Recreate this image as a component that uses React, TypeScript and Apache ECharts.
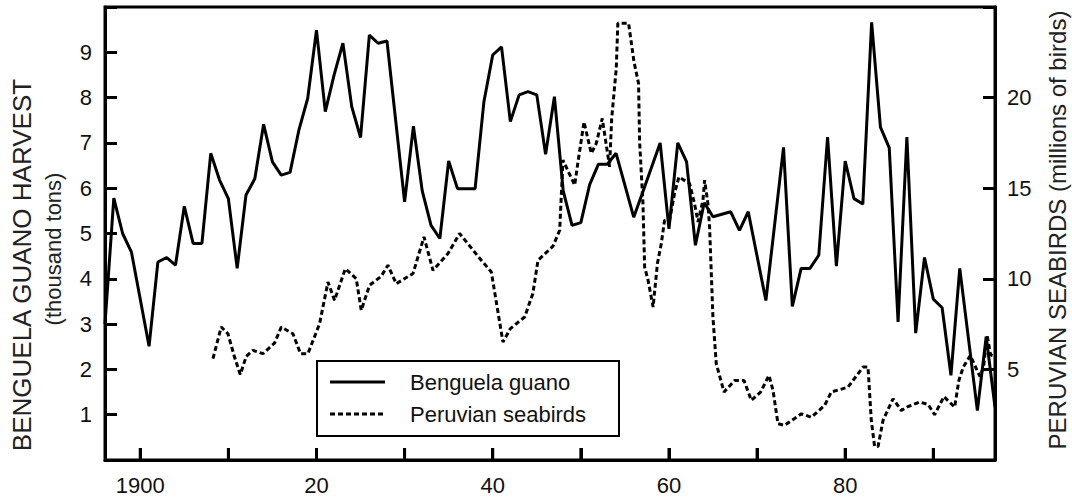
import React, { useEffect, useRef } from "react";
import * as echarts from "echarts";

// Benguela guano harvest (thousand tons), by year
const guanoYears = [
  1896, 1897, 1898, 1899, 1901, 1902, 1903, 1904, 1905, 1906, 1907, 1908, 1909, 1910,
  1911, 1912, 1913, 1914, 1915, 1916, 1917, 1918, 1919, 1920, 1921, 1922, 1923, 1924,
  1925, 1926, 1927, 1928, 1930, 1931, 1932, 1933, 1934, 1935, 1936, 1937, 1938, 1939,
  1940, 1941, 1942, 1943, 1944, 1945, 1946, 1947, 1948, 1949, 1950, 1951, 1952, 1953,
  1954, 1956, 1957, 1959, 1960, 1961, 1962, 1963, 1964, 1965, 1967, 1968, 1969, 1971,
  1973, 1974, 1975, 1976, 1977, 1978, 1979, 1980, 1981, 1982, 1983, 1984, 1985, 1986,
  1987, 1988, 1989, 1990, 1991, 1992, 1993, 1995, 1996, 1997,
];
const guanoValues = [
  3.0, 5.78, 5.0, 4.59, 2.51, 4.37, 4.47, 4.3, 5.6, 4.78, 4.78, 6.77, 6.18, 5.77,
  4.23, 5.85, 6.21, 7.41, 6.58, 6.29, 6.35, 7.28, 7.98, 9.49, 7.69, 8.5, 9.2, 7.8,
  7.12, 9.38, 9.2, 9.25, 5.7, 7.37, 5.94, 5.18, 4.89, 6.6, 5.99, 5.99, 5.99, 7.91,
  8.94, 9.12, 7.47, 8.06, 8.13, 8.06, 6.75, 8.02, 5.94, 5.18, 5.24, 6.08, 6.53, 6.53,
  6.77, 5.36, 5.9, 7.0, 5.1, 7.0, 6.58, 4.74, 5.68, 5.37, 5.48, 5.07, 5.48, 3.52,
  6.9, 3.39, 4.23, 4.23, 4.52, 7.13, 4.28, 6.6, 5.77, 5.65, 9.66, 7.35, 6.89, 3.05,
  7.13, 2.8, 4.47, 3.55, 3.36, 1.87, 4.23, 1.09, 2.72, 1.17,
];

// Peruvian seabirds (millions of birds)
const seabirdYears = [
  1908.25, 1909.19, 1909.95, 1910.7, 1911.35, 1912.03, 1912.79, 1913.93, 1915.24, 1916.0,
  1917.33, 1918.19, 1919.03, 1920.35, 1921.3, 1922.05, 1923.27, 1924.51, 1925.08, 1926.02,
  1927.35, 1928.11, 1929.05, 1930.95, 1932.2, 1933.22, 1934.92, 1936.24, 1938.7, 1939.84,
  1941.16, 1942.0, 1943.62, 1944.55, 1945.14, 1946.84, 1947.6, 1947.97, 1949.3, 1949.68,
  1950.36, 1950.62, 1951.19, 1951.75, 1952.43, 1953.26, 1953.5, 1954.02, 1954.2, 1955.42,
  1956.03, 1956.55, 1956.67, 1957.05, 1957.24, 1957.63, 1958.2, 1958.69, 1959.13, 1959.5,
  1960.07, 1960.63, 1961.13, 1962.34, 1962.9, 1963.3, 1963.86, 1964.05, 1964.42, 1964.61,
  1964.99, 1965.37, 1966.25, 1967.45, 1968.52, 1969.35, 1970.4, 1971.35, 1971.81, 1972.37,
  1973.12, 1975.02, 1976.15, 1977.66, 1978.42, 1980.32, 1982.02, 1982.59, 1982.96, 1983.34,
  1983.73, 1984.29, 1985.43, 1986.37, 1987.13, 1988.45, 1989.4, 1990.15, 1991.2, 1992.42,
  1992.9, 1993.4, 1994.2, 1994.8, 1995.3, 1995.7, 1996.1, 1996.5, 1997.2,
];
const seabirdValues = [
  5.59, 7.34, 6.97, 5.68, 4.72, 5.72, 6.05, 5.87, 6.45, 7.34,
  6.97, 5.87, 5.87, 7.52, 9.82, 8.81, 10.56, 10.01, 8.26, 9.64,
  10.14, 10.75, 9.73, 10.29, 12.31, 10.47, 11.39, 12.5, 11.02, 10.38,
  6.51, 7.25, 7.89, 9.18, 11.02, 11.8, 12.68, 16.55, 15.17, 16.45,
  18.66, 18.1, 16.92, 17.47, 18.85, 16.18, 18.85, 21.61, 24.1, 24.1,
  21.98, 20.78, 17.56, 14.15, 10.65, 9.92, 8.44, 10.84, 11.94, 13.23,
  13.23, 14.71, 15.62, 15.26, 14.15, 13.14, 14.34, 15.44, 14.15, 12.86,
  7.89, 5.31, 3.75, 4.39, 4.39, 3.29, 3.75, 4.67, 3.84, 2.0,
  1.91, 2.55, 2.36, 3.01, 3.75, 4.02, 5.13, 5.13, 2.18, 0.75,
  0.75, 2.18, 3.38, 2.73, 2.95, 3.2, 3.07, 2.5, 3.5, 2.92,
  4.39, 5.13, 5.77, 5.13, 4.6, 5.13, 6.9, 5.8, 5.7,
];

// x ticks every decade; labels only on these years
const xTickValues = [1900, 1910, 1920, 1930, 1940, 1950, 1960, 1970, 1980, 1990];
const xLabelValues = [1900, 1920, 1940, 1960, 1980];

const leftTitle = "BENGUELA GUANO HARVEST";
const leftSubtitle = "(thousand tons)";
const rightTitle = "PERUVIAN SEABIRDS (millions of birds)";
const legendNames = ["Benguela guano", "Peruvian seabirds"];

const FONT = "'Liberation Sans', Arial, Helvetica, sans-serif";

export default function App() {
  const ref = useRef<HTMLDivElement>(null);

  useEffect(() => {
    if (!ref.current) return;
    const chart = echarts.init(ref.current, undefined, { renderer: "svg" });
    const guanoData = guanoYears.map((y, i) => [y, guanoValues[i]]);
    const seabirdData = seabirdYears.map((y, i) => [y, seabirdValues[i]]);
    const tickData = xTickValues.map((y) => [y, 0]);

    const mkLine = () => ({ show: true, lineStyle: { color: "#000", width: 3 } });
    const mkTick = () => ({
      show: true,
      inside: true,
      length: 12,
      lineStyle: { color: "#000", width: 3 },
    });
    const label = { color: "#111", fontSize: 22, fontFamily: FONT };

    chart.setOption({
      animation: false,
      backgroundColor: "#fff",
      grid: {
        left: 105,
        right: 77,
        top: 7,
        bottom: 41,
        show: true,
        borderColor: "#000",
        borderWidth: 3,
        backgroundColor: "transparent",
      },
      xAxis: {
        type: "value",
        min: 1896,
        max: 1997,
        splitNumber: 10,
        axisLine: { ...mkLine(), onZero: false },
        axisTick: mkTick(),
        splitLine: { show: false },
        axisLabel: {
          ...label,
          margin: 14,
          showMinLabel: false,
          showMaxLabel: false,
          formatter: (v: number) =>
            xLabelValues.indexOf(v) < 0 ? "" : v === 1900 ? "1900" : String(v % 100),
        },
      },
      yAxis: [
        {
          type: "value",
          min: 0,
          max: 10,
          interval: 1,
          position: "left",
          axisLine: mkLine(),
          axisTick: mkTick(),
          splitLine: { show: false },
          axisLabel: {
            ...label,
            margin: 13,
            formatter: (v: number) => (v === 0 || v === 10 ? "" : String(v)),
          },
        },
        {
          type: "value",
          min: 0,
          max: 25,
          interval: 5,
          position: "right",
          axisLine: mkLine(),
          axisTick: mkTick(),
          splitLine: { show: false },
          axisLabel: {
            ...label,
            margin: 12,
            formatter: (v: number) => (v === 0 || v === 25 ? "" : String(v)),
          },
        },
      ],
      series: [
        {
          name: legendNames[0],
          type: "line",
          yAxisIndex: 0,
          data: guanoData,
          symbol: "none",
          lineStyle: { color: "#000", width: 3 },
          z: 3,
        },
        {
          name: legendNames[1],
          type: "line",
          yAxisIndex: 1,
          data: seabirdData,
          symbol: "none",
          lineStyle: { color: "#000", width: 3, type: [5, 3] },
          z: 2,
        },
        {
          name: "decade ticks",
          type: "custom",
          yAxisIndex: 0,
          data: tickData,
          clip: false,
          silent: true,
          z: 4,
          renderItem: (params: any, api: any) => {
            const p = api.coord([api.value(0), api.value(1)]);
            return {
              type: "line",
              shape: { x1: p[0], y1: p[1], x2: p[0], y2: p[1] - 12 },
              style: { stroke: "#000", lineWidth: 3 },
            };
          },
        },
      ],
      graphic: [
        {
          type: "text",
          x: 22,
          y: 265,
          rotation: Math.PI / 2,
          style: {
            text: leftTitle,
            fill: "#222",
            font: `26px ${FONT}`,
            align: "center",
            verticalAlign: "middle",
          },
        },
        {
          type: "text",
          x: 53,
          y: 249,
          rotation: Math.PI / 2,
          style: {
            text: leftSubtitle,
            fill: "#222",
            font: `22px ${FONT}`,
            align: "center",
            verticalAlign: "middle",
          },
        },
        {
          type: "text",
          x: 1057,
          y: 230,
          rotation: Math.PI / 2,
          style: {
            text: rightTitle,
            fill: "#222",
            font: `24px ${FONT}`,
            align: "center",
            verticalAlign: "middle",
          },
        },
        {
          type: "group",
          z: 100,
          children: [
            {
              type: "rect",
              shape: { x: 317, y: 361, width: 302, height: 75 },
              style: { fill: "#fff", stroke: "#000", lineWidth: 2 },
            },
            {
              type: "line",
              shape: { x1: 330, y1: 382, x2: 385, y2: 382 },
              style: { stroke: "#000", lineWidth: 3 },
            },
            {
              type: "line",
              shape: { x1: 330, y1: 414, x2: 385, y2: 414 },
              style: { stroke: "#000", lineWidth: 3, lineDash: [5, 3] },
            },
            {
              type: "text",
              x: 410,
              y: 382,
              style: {
                text: legendNames[0],
                fill: "#111",
                font: `22px ${FONT}`,
                verticalAlign: "middle",
              },
            },
            {
              type: "text",
              x: 410,
              y: 414,
              style: {
                text: legendNames[1],
                fill: "#111",
                font: `22px ${FONT}`,
                verticalAlign: "middle",
              },
            },
          ],
        },
      ],
    });

    return () => chart.dispose();
  }, []);

  return (
    <div
      ref={ref}
      style={{ position: "fixed", left: 0, top: 0, width: 1072, height: 501, background: "#fff" }}
    />
  );
}
